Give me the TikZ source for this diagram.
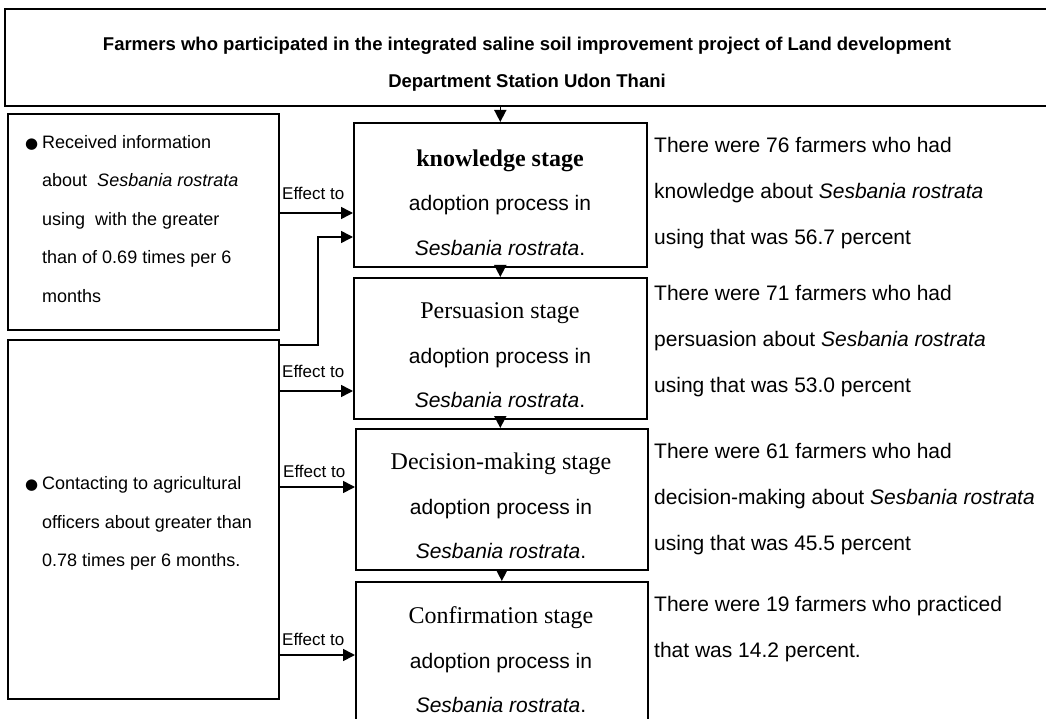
\documentclass[tikz,border=0pt]{standalone}
\usepackage{fontspec}
\setmainfont{Liberation Sans}
\newfontfamily\seriffont{Liberation Serif}
\newfontfamily\symfont{DejaVu Sans}
\usetikzlibrary{arrows.meta}
\newcommand{\sst}{\rule[-0.3em]{0pt}{1.2em}}
\newcommand{\sr}{\textit{Sesbania rostrata}}
\newcommand{\bul}{\llap{{\symfont\fontsize{15}{15}\selectfont ●}\hspace{4pt}}}
\begin{document}
\begin{tikzpicture}[x=1pt,y=-1pt,
  box/.style={draw=black, line width=1.6pt, inner sep=0pt, anchor=north west},
  txt/.style={inner sep=0pt, font=\fontsize{21}{44.5}\selectfont},
  rtxt/.style={inner sep=0pt, font=\fontsize{21}{46}\selectfont, align=left, anchor=west},
  ltxt/.style={inner sep=0pt, font=\fontsize{18}{38.5}\selectfont, align=left, anchor=west},
  lab/.style={inner sep=0pt, font=\fontsize{17}{20}\selectfont, anchor=west},
  arr/.style={line width=1.6pt, -{Triangle[length=12pt,width=12pt]}}]
\useasboundingbox (0,0) rectangle (1046,719);
\clip (0,0) rectangle (1046,719);
% boxes
\node[box, minimum width=1046, minimum height=97] (top) at (4,8) {};
\node[box, minimum width=271, minimum height=216] (b1) at (7,113) {};
\node[box, minimum width=271, minimum height=359] (b2) at (7,339) {};
\node[box, minimum width=293, minimum height=144] (k) at (353,122) {};
\node[box, minimum width=293, minimum height=141] (p) at (353,277) {};
\node[box, minimum width=292, minimum height=141] (d) at (355,428) {};
\node[box, minimum width=292, minimum height=170] (c) at (355,581) {};
% title
\node[txt, font=\bfseries\fontsize{18.5}{37}\selectfont, align=center] (title) at (527,63.5)
  {\sst Farmers who participated in the integrated saline soil improvement project of Land development\\
   \sst Department Station Udon Thani};
% stage texts
\node[txt, align=center] (kt) at (500,204.5)
  {\sst{\seriffont\bfseries\fontsize{24}{44.5}\selectfont knowledge stage}\\\sst adoption process in\\\sst\sr.};
\node[txt, align=center] (pt) at (500,357)
  {\sst{\seriffont\fontsize{24}{44.5}\selectfont Persuasion stage}\\\sst adoption process in\\\sst\sr.};
\node[txt, align=center] (dt) at (501,508)
  {\sst{\seriffont\fontsize{24}{44.5}\selectfont Decision-making stage}\\\sst adoption process in\\\sst\sr.};
\node[txt, align=center] (ct) at (501,662)
  {\sst{\seriffont\fontsize{24}{44.5}\selectfont Confirmation stage}\\\sst adoption process in\\\sst\sr.};
% right texts
\node[rtxt] (kr) at (654,192)
  {\sst There were 76 farmers who had\\\sst knowledge about \sr\\\sst using that was 56.7 percent};
\node[rtxt] (pr) at (654,340)
  {\sst There were 71 farmers who had\\\sst persuasion about \sr\\\sst using that was 53.0 percent};
\node[rtxt] (dr) at (654,498)
  {\sst There were 61 farmers who had\\\sst decision-making about \sr\\\sst using that was 45.5 percent};
\node[rtxt] (cr) at (654,628)
  {\sst There were 19 farmers who practiced\\\sst that was 14.2 percent.};
% left texts
\node[ltxt] (b1t) at (42,220)
  {\sst\bul Received information\\\sst about~~\sr\\\sst using~~with the greater\\\sst than of 0.69 times per 6\\\sst months};
\node[ltxt] (b2t) at (42,523)
  {\sst\bul Contacting to agricultural\\\sst officers about greater than\\\sst 0.78 times per 6 months.};
% effect labels
\node[lab] (l1) at (282,193) {Effect to};
\node[lab] (l2) at (282,371) {Effect to};
\node[lab] (l3) at (283,471) {Effect to};
\node[lab] (l4) at (282,639) {Effect to};
% junction coordinates
\coordinate (y1) at (0,213);
\coordinate (j1) at (318,345);
\coordinate (j2) at (318,237);
\coordinate (y3) at (0,391);
\coordinate (y4) at (0,487);
\coordinate (y5) at (0,655);
% connectors
\draw[arr] (b1.east |- y1) -- (k.west |- y1);
\draw[arr] (b2.east |- j1) -- (j1) -- (j2) -- (k.west |- j2);
\draw[arr] (b2.east |- y3) -- (p.west |- y3);
\draw[arr] (b2.east |- y4) -- (d.west |- y4);
\draw[arr] (b2.east |- y5) -- (c.west |- y5);
\draw[arr] (k.north |- top.south) -- (k.north);
\draw[arr] (k.south) -- (p.north);
\draw[arr] (p.south) -- (d.north -| p.south);
\draw[arr] (d.south) -- (c.north);
\end{tikzpicture}
\end{document}
